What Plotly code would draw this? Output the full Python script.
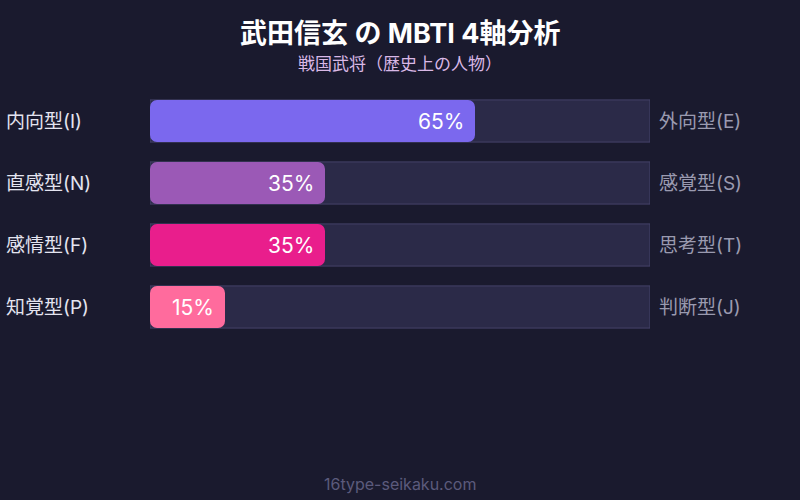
import plotly.graph_objects as go

left_labels = ["内向型(I)", "直感型(N)", "感情型(F)", "知覚型(P)"]
right_labels = ["外向型(E)", "感覚型(S)", "思考型(T)", "判断型(J)"]
values = [65, 35, 35, 15]
track = [100, 100, 100, 100]
colors = ["#7b68ee", "#9b59b6", "#e91e8c", "#ff6b9d"]
rows = ["I", "N", "F", "P"]

FONT = "Inter, Noto Sans CJK JP, sans-serif"
PLOT_TOP, PLOT_H = 90, 248
BAR_W = 0.68


def py(pix):
    return (PLOT_TOP + PLOT_H - pix) / PLOT_H


fig = go.Figure()
fig.add_trace(go.Bar(
    y=rows, x=track, orientation="h",
    marker=dict(color="#2b2a48", line=dict(color="#45436a", width=1)),
    width=BAR_W, offset=-BAR_W / 2, hoverinfo="skip", showlegend=False,
))
fig.add_trace(go.Bar(
    y=rows, x=values, base=[0] * len(values), orientation="h",
    marker=dict(color=colors, cornerradius=7, line=dict(width=0)),
    width=BAR_W, offset=-BAR_W / 2, hoverinfo="skip", showlegend=False,
))

annotations = []
for r, v in zip(rows, values):
    annotations.append(dict(x=v, xref="x", y=r, yref="y", text=f"{v}%",
                            showarrow=False, xanchor="right", yanchor="middle",
                            xshift=-9,
                            font=dict(color="white", size=21, family=FONT)))
for r, lab in zip(rows, left_labels):
    annotations.append(dict(x=-0.292, xref="paper", y=r, yref="y", text=lab,
                            showarrow=False, xanchor="left", yanchor="middle",
                            font=dict(color="#e4e4f0", size=19, family=FONT)))
for r, lab in zip(rows, right_labels):
    annotations.append(dict(x=1.014, xref="paper", y=r, yref="y", text=lab,
                            showarrow=False, xanchor="left", yanchor="middle",
                            font=dict(color="#9a9ab0", size=19, family=FONT)))
annotations.append(dict(x=0.5, xref="paper", y=py(34), yref="paper", yanchor="middle",
                        text="<b>武田信玄 の MBTI 4軸分析</b>", showarrow=False,
                        font=dict(color="white", size=27, family=FONT)))
annotations.append(dict(x=0.5, xref="paper", y=py(64), yref="paper", yanchor="middle",
                        text="戦国武将（歴史上の人物）", showarrow=False,
                        font=dict(color="#d9b8e6", size=17, family=FONT)))
annotations.append(dict(x=0.5, xref="paper", y=py(484), yref="paper", yanchor="middle",
                        text="16type-seikaku.com", showarrow=False,
                        font=dict(color="#5c5a7c", size=16, family=FONT)))

fig.update_layout(
    width=800, height=500,
    paper_bgcolor="#1a1a2e", plot_bgcolor="#1a1a2e",
    margin=dict(l=150, r=150, t=PLOT_TOP, b=500 - PLOT_TOP - PLOT_H),
    barmode="group",
    xaxis=dict(range=[0, 100], visible=False, fixedrange=True),
    yaxis=dict(visible=False, autorange="reversed", categoryorder="array",
               categoryarray=rows, fixedrange=True),
    annotations=annotations,
    font=dict(family=FONT),
)

fig.write_html("out.html", config={"displayModeBar": False},
               post_script="document.body.style.margin='0';document.body.style.background='#1a1a2e';")
